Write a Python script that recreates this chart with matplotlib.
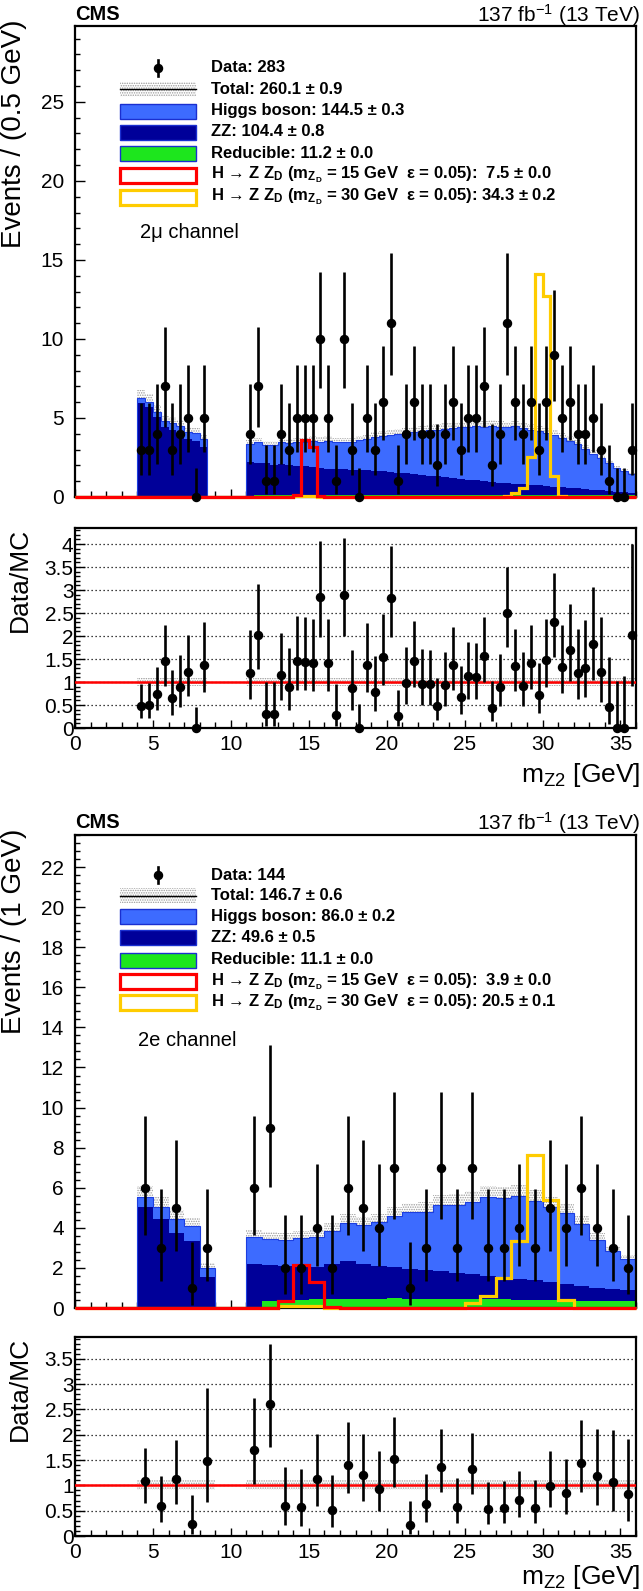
import numpy as np
import matplotlib
matplotlib.use('Agg')
import matplotlib.pyplot as plt
from matplotlib.patches import Rectangle
from matplotlib.lines import Line2D
from matplotlib.ticker import MultipleLocator
from math import exp, factorial

plt.rcParams['font.family'] = ['Liberation Sans', 'DejaVu Sans']
plt.rcParams['mathtext.fontset'] = 'custom'
plt.rcParams['mathtext.rm'] = 'Liberation Sans'
plt.rcParams['mathtext.bf'] = 'Liberation Sans:bold'
plt.rcParams['mathtext.it'] = 'Liberation Sans:italic'
plt.rcParams['hatch.linewidth'] = 0.7

# ---------------- 2mu channel (0.5 GeV bins) ----------------
mu_width = 0.5
mu_regions = [4.0, 11.0]          # first low edge of each filled region
mu_higgs_a = [0.30, 0.35, 0.35, 0.40, 0.40, 0.45, 0.45, 0.50, 0.50]
mu_zz_a = [5.95, 5.68, 5.05, 4.43, 4.26, 4.06, 3.68, 3.53, 3.15]
mu_red_a = [0, 0, 0, 0, 0, 0, 0, 0, 0]
mu_data_a = [3, 3, 4, 7, 3, 4, 5, 0, 5]

mu_higgs_b = [1.13, 1.29, 1.18, 1.25, 1.39, 1.40, 1.49, 1.53, 1.65, 1.64,
              1.75, 1.69, 1.71, 1.75, 1.88, 1.95, 2.12, 2.22, 2.30, 2.42,
              2.55, 2.64, 2.76, 2.86, 2.95, 3.05, 3.15, 3.25, 3.36, 3.47,
              3.45, 3.54, 3.54, 3.54, 3.66, 3.56, 3.50, 3.44, 3.36, 3.24,
              3.13, 2.97, 2.80, 2.56, 2.29, 2.03, 1.76, 1.48, 1.32, 1.21]
mu_zz_b = [2.22, 2.06, 1.97, 1.90, 1.91, 1.85, 1.81, 1.79, 1.75, 1.71,
           1.65, 1.61, 1.59, 1.57, 1.55, 1.56, 1.51, 1.49, 1.45, 1.40,
           1.35, 1.31, 1.25, 1.21, 1.15, 1.11, 1.06, 1.00, 0.95, 0.90,
           0.85, 0.81, 0.75, 0.71, 0.66, 0.65, 0.61, 0.59, 0.55, 0.51,
           0.46, 0.43, 0.39, 0.34, 0.30, 0.27, 0.23, 0.19, 0.15, 0.12]
mu_red_b = [0.00, 0.10, 0.15, 0.15, 0.15, 0.15, 0.15, 0.15, 0.15, 0.15,
            0.15, 0.15, 0.15, 0.15, 0.15, 0.15, 0.15, 0.15, 0.15, 0.15,
            0.15, 0.15, 0.15, 0.15, 0.15, 0.15, 0.15, 0.15, 0.15, 0.15,
            0.15, 0.15, 0.15, 0.15, 0.15, 0.15, 0.15, 0.15, 0.15, 0.15,
            0.15, 0.15, 0.15, 0.15, 0.15, 0.15, 0.15, 0.15, 0.15, 0.15]
mu_data_b = [4, 7, 1, 1, 4, 3, 5, 5, 5, 10, 5, 1, 10, 3,
             0, 5, 3, 6, 11, 1, 4, 6, 4, 4, 2, 4, 6, 3, 5, 5, 7, 2,
             4, 11, 6, 4, 6, 3, 6, 9, 5, 6, 4, 4, 5, 3, 1, 0, 0, 3]

mu_sig15_x = [14.25, 14.75, 15.25, 15.75]
mu_sig15_y = [0.12, 3.60, 3.15, 0.06]
mu_sig30_x = [14.25, 14.75, 15.25, 27.25, 27.75, 28.25, 28.75, 29.25,
              29.75, 30.25, 30.75, 31.25]
mu_sig30_y = [0.05, 0.05, 0.05, 0.03, 0.08, 0.27, 0.55, 2.55,
              14.1, 12.7, 1.33, 0.06]
mu_unc = 0.08

mu_legend = ["Data: 283",
             "Total: 260.1 \u00b1 0.9",
             "Higgs boson: 144.5 \u00b1 0.3",
             "ZZ: 104.4 \u00b1 0.8",
             "Reducible: 11.2 \u00b1 0.0",
             "H \u2192 Z Z$_\\mathbf{D}$ (m$_{\\mathbf{Z}_\\mathbf{D}}$ = 15 GeV  \u03b5 = 0.05):  7.5 \u00b1 0.0",
             "H \u2192 Z Z$_\\mathbf{D}$ (m$_{\\mathbf{Z}_\\mathbf{D}}$ = 30 GeV  \u03b5 = 0.05): 34.3 \u00b1 0.2"]

# ---------------- 2e channel (1 GeV bins) ----------------
e_width = 1.0
e_regions = [4.0, 11.0]
e_higgs_a = [0.50, 0.60, 0.70, 0.75, 0.47]
e_zz_a = [5.03, 4.43, 3.73, 3.32, 1.55]
e_red_a = [0, 0, 0, 0, 0]
e_data_a = [6, 3, 5, 1, 3]

e_higgs_b = [1.32, 1.31, 1.30, 1.38, 1.51, 1.65, 1.90, 1.95, 2.18, 2.53,
             2.83, 2.90, 3.27, 3.40, 3.60, 3.95, 3.93, 4.13, 3.94, 3.72,
             3.52, 3.08, 2.38, 1.87, 1.52]
e_zz_b = [2.20, 1.82, 1.72, 1.68, 1.62, 1.75, 1.89, 1.73, 1.63, 1.57,
          1.48, 1.43, 1.39, 1.29, 1.25, 1.16, 1.12, 1.03, 0.99, 0.90,
          0.82, 0.73, 0.65, 0.61, 0.57]
e_red_b = [0.00, 0.33, 0.38, 0.42, 0.43, 0.45, 0.46, 0.47, 0.47, 0.48,
           0.47, 0.47, 0.46, 0.46, 0.45, 0.44, 0.43, 0.42, 0.41, 0.40,
           0.38, 0.37, 0.35, 0.34, 0.33]
e_data_b = [6, 9, 2, 2, 4, 2, 6, 5, 4, 7, 1, 3, 7, 3, 7, 3, 3, 4, 3, 5,
            4, 6, 4, 3, 2]

e_sig15_x = [13.5, 14.5, 15.5, 16.5]
e_sig15_y = [0.35, 2.15, 1.30, 0.04]
e_sig30_x = [13.5, 14.5, 15.5, 25.5, 26.5, 27.5, 28.5, 29.5, 30.5, 31.5]
e_sig30_y = [0.10, 0.12, 0.10, 0.23, 0.60, 1.50, 3.35, 7.65, 5.37, 0.40]
e_unc = 0.10

e_legend = ["Data: 144",
            "Total: 146.7 \u00b1 0.6",
            "Higgs boson: 86.0 \u00b1 0.2",
            "ZZ: 49.6 \u00b1 0.5",
            "Reducible: 11.1 \u00b1 0.0",
            "H \u2192 Z Z$_\\mathbf{D}$ (m$_{\\mathbf{Z}_\\mathbf{D}}$ = 15 GeV  \u03b5 = 0.05):  3.9 \u00b1 0.0",
            "H \u2192 Z Z$_\\mathbf{D}$ (m$_{\\mathbf{Z}_\\mathbf{D}}$ = 30 GeV  \u03b5 = 0.05): 20.5 \u00b1 0.1"]

C_HIGGS = '#3d6bff'
C_ZZ = '#000099'
C_RED = '#1de61d'
C_S15 = '#ff0000'
C_S30 = '#ffcc00'
C_BAND = '#9a9a9a'

W, H = 643, 1591
fig = plt.figure(figsize=(W / 100, H / 100), dpi=100)


def fx(px):
    return px / W


def fy(py):
    return 1 - py / H


def garwood(n, cl=0.6827):
    a = (1 - cl) / 2

    def cdf(k, mu):
        return sum(exp(-mu) * mu ** i / factorial(i) for i in range(k + 1))

    def solve(k, target):
        lo, hi = 0.0, n + 40.0
        for _ in range(80):
            mid = 0.5 * (lo + hi)
            if cdf(k, mid) > target:
                lo = mid
            else:
                hi = mid
        return 0.5 * (lo + hi)

    up = solve(n, a)
    dn = 0.0 if n == 0 else solve(n - 1, 1 - a)
    return dn, up


def fill_bins(edges, width, starts, parts):
    arr = np.zeros(len(edges) - 1)
    for s, vals in zip(starts, parts):
        i0 = int(round(s / width))
        arr[i0:i0 + len(vals)] = vals
    return arr


def spot_bins(edges, width, xs, ys):
    arr = np.zeros(len(edges) - 1)
    for x, y in zip(xs, ys):
        arr[int(x // width)] = y
    return arr


def style_axes(ax):
    for sp in ax.spines.values():
        sp.set_linewidth(1.6)
    ax.tick_params(which='both', direction='in', top=False, right=False)
    ax.tick_params(axis='x', which='major', length=6, width=1.0)
    ax.tick_params(axis='x', which='minor', length=4, width=1.0)
    ax.tick_params(axis='y', which='major', length=7, width=1.0)
    ax.tick_params(axis='y', which='minor', length=3.5, width=1.0)
    ax.set_xlim(0, 36)
    ax.xaxis.set_major_locator(MultipleLocator(5))
    ax.xaxis.set_minor_locator(MultipleLocator(1))


def draw_channel(ax, axr, width, starts, higgs, zz, red, data, s15x, s15y,
                 s30x, s30y, unc, ymax, ymajor, yminor, rmax):
    edges = np.arange(0, 36 + width / 2, width)
    centers = 0.5 * (edges[:-1] + edges[1:])
    h_red = fill_bins(edges, width, starts, red)
    h_zz = fill_bins(edges, width, starts, zz)
    h_higgs = fill_bins(edges, width, starts, higgs)
    h_data = fill_bins(edges, width, starts, data).astype(int)
    h_s15 = spot_bins(edges, width, s15x, s15y)
    h_s30 = spot_bins(edges, width, s30x, s30y)

    b1 = h_red
    b2 = b1 + h_zz
    tot = b2 + h_higgs
    has_mc = tot > 0

    # uncertainty band (sits under the stack, only the upper half shows)
    ax.stairs(tot * (1 + unc), edges, baseline=tot * (1 - unc), fill=True,
              facecolor='none', edgecolor=C_BAND, hatch='.......', lw=0, zorder=1)
    ax.stairs(b1, edges, baseline=0, fill=True, color=C_RED, lw=0, zorder=2)
    ax.stairs(b2, edges, baseline=b1, fill=True, color=C_ZZ, lw=0, zorder=2)
    ax.stairs(tot, edges, baseline=b2, fill=True, color=C_HIGGS, lw=0, zorder=2)
    ax.stairs(np.where(has_mc, tot, 0), edges, color='#1c3ee0', lw=0.8, zorder=2.1)

    ax.stairs(h_s30, edges, color=C_S30, lw=2.3, zorder=4, clip_on=False)
    ax.stairs(h_s15, edges, color=C_S15, lw=2.3, zorder=4.1, clip_on=False)

    xs = centers[has_mc]
    n = h_data[has_mc]
    mc = tot[has_mc]
    lims = np.array([garwood(int(k)) for k in n])
    ax.vlines(xs, lims[:, 0], lims[:, 1], color='k', lw=1.9, zorder=6, clip_on=False)
    ax.plot(xs, n, 'o', color='k', ms=5.8, zorder=7, clip_on=False)

    ax.set_ylim(0, ymax)
    ax.yaxis.set_major_locator(MultipleLocator(ymajor))
    ax.yaxis.set_minor_locator(MultipleLocator(yminor))
    ax.tick_params(axis='x', labelbottom=False)
    ax.tick_params(axis='y', labelsize=15, pad=8)

    # ratio panel
    up = np.where(has_mc, 1 + unc, 1)
    dn = np.where(has_mc, 1 - unc, 1)
    axr.stairs(up, edges, baseline=dn, fill=True, facecolor='none',
               edgecolor=C_BAND, hatch='.......', lw=0, zorder=1)
    axr.axhline(1, color='#ff0000', lw=1.8, zorder=3)
    axr.vlines(xs, lims[:, 0] / mc, lims[:, 1] / mc, color='k', lw=1.9, zorder=6, clip_on=False)
    axr.plot(xs, n / mc, 'o', color='k', ms=5.8, zorder=7, clip_on=False)
    axr.set_ylim(0, rmax)
    axr.yaxis.set_minor_locator(MultipleLocator(0.1))
    axr.yaxis.grid(True, which='major', color='k', linestyle=(0, (1, 2.2)), lw=0.9)
    axr.set_axisbelow(False)
    rticks = np.arange(0, rmax, 0.5)
    axr.set_yticks(rticks)
    axr.set_yticklabels([f'{v:g}' for v in rticks])
    axr.tick_params(axis='y', labelsize=15, pad=1)
    axr.tick_params(axis='x', labelsize=15, pad=5)


def draw_legend(rows, labels):
    x0, x1, bh = 120, 196, 15
    for i, (yy, lab) in enumerate(zip(rows, labels)):
        rect = (fx(x0), fy(yy + bh / 2))
        rw, rh = fx(x1) - fx(x0), bh / H
        if i == 0:
            fig.add_artist(Line2D([fx(158)] * 2, [fy(yy - 8), fy(yy + 8)], color='k', lw=1.9))
            fig.add_artist(Line2D([fx(158)], [fy(yy)], marker='o', ms=5.8, color='k'))
        elif i == 1:
            fig.add_artist(Rectangle(rect, rw, rh, facecolor='none', edgecolor=C_BAND,
                                     hatch='.......', lw=0, transform=fig.transFigure))
            fig.add_artist(Line2D([fx(x0), fx(x1)], [fy(yy)] * 2, color='k', lw=1.0))
        elif i in (2, 3, 4):
            fc = [C_HIGGS, C_ZZ, C_RED][i - 2]
            fig.add_artist(Rectangle(rect, rw, rh, facecolor=fc, edgecolor='#1a2fd0',
                                     lw=1.0, transform=fig.transFigure))
        else:
            ec = C_S15 if i == 5 else C_S30
            fig.add_artist(Rectangle(rect, rw, rh, facecolor='white', edgecolor=ec,
                                     lw=2.3, transform=fig.transFigure))
        fig.text(fx(211), fy(yy), lab, fontsize=12, fontweight='bold', ha='left', va='center')


def panel_frame(top, bottom):
    return [fx(75), fy(bottom), fx(636) - fx(75), (bottom - top) / H]


# ---------------- top block: 2mu ----------------
ax1 = fig.add_axes(panel_frame(26, 497))
ax1r = fig.add_axes(panel_frame(528, 728))
for a in (ax1, ax1r):
    style_axes(a)
draw_channel(ax1, ax1r, mu_width, mu_regions,
             [mu_higgs_a, mu_higgs_b], [mu_zz_a, mu_zz_b], [mu_red_a, mu_red_b],
             [mu_data_a, mu_data_b], mu_sig15_x, mu_sig15_y, mu_sig30_x, mu_sig30_y,
             mu_unc, 29.8, 5, 1, 4.35)
draw_legend([68, 89, 111, 132, 153, 175, 197], mu_legend)
fig.text(fx(140), fy(233), "2\u03bc channel", fontsize=14.5, ha='left', va='center')
fig.text(fx(75), fy(15), "CMS", fontsize=14.5, fontweight='bold', ha='left', va='center')
fig.text(fx(640), fy(15), "137 fb$^{-1}$ (13 TeV)", fontsize=15, ha='right', va='center')
fig.text(fx(14), fy(20), "Events / (0.5 GeV)", fontsize=20, rotation=90, ha='center', va='top')
fig.text(fx(20), fy(528), "Data/MC", fontsize=19, rotation=90, ha='center', va='top')
fig.text(fx(640), fy(775), "m$_{\\mathrm{Z2}}$ [GeV]", fontsize=19, ha='right', va='center')

# ---------------- bottom block: 2e ----------------
ax2 = fig.add_axes(panel_frame(835, 1308))
ax2r = fig.add_axes(panel_frame(1337, 1536))
for a in (ax2, ax2r):
    style_axes(a)
draw_channel(ax2, ax2r, e_width, e_regions,
             [e_higgs_a, e_higgs_b], [e_zz_a, e_zz_b], [e_red_a, e_red_b],
             [e_data_a, e_data_b], e_sig15_x, e_sig15_y, e_sig30_x, e_sig30_y,
             e_unc, 23.6, 2, 0.4, 3.93)
draw_legend([875, 896, 917, 938, 960, 982, 1003], e_legend)
fig.text(fx(138), fy(1040), "2e channel", fontsize=14.5, ha='left', va='center')
fig.text(fx(75), fy(823), "CMS", fontsize=14.5, fontweight='bold', ha='left', va='center')
fig.text(fx(640), fy(823), "137 fb$^{-1}$ (13 TeV)", fontsize=15, ha='right', va='center')
fig.text(fx(14), fy(829), "Events / (1 GeV)", fontsize=20, rotation=90, ha='center', va='top')
fig.text(fx(20), fy(1337), "Data/MC", fontsize=19, rotation=90, ha='center', va='top')
fig.text(fx(640), fy(1577), "m$_{\\mathrm{Z2}}$ [GeV]", fontsize=19, ha='right', va='center')

fig.savefig('out.png', dpi=100, facecolor='white')
